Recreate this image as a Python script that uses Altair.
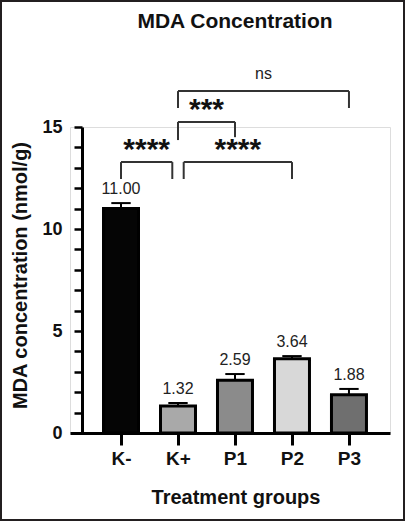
import json
import altair as alt
import pandas as pd

# ---- data ----
groups = ["K-", "K+", "P1", "P2", "P3"]
means = [11.00, 1.32, 2.59, 3.64, 1.88]
sems = [0.27, 0.15, 0.30, 0.13, 0.28]
bar_colors = ["#050505", "#a9a9a9", "#8b8b8b", "#d8d8d8", "#6f6f6f"]

cmp_from = ["K-", "K+", "K+", "K+"]
cmp_to = ["K+", "P2", "P1", "P3"]
cmp_top = [13.28, 13.28, 15.25, 16.76]
cmp_from_low = [12.45, 12.45, 14.36, 15.93]
cmp_to_low = [12.45, 12.45, 14.50, 15.93]
cmp_from_shift = [0.0, 0.1, 0.0, 0.0]
cmp_to_shift = [-0.1, 0.0, 0.0, 0.0]
cmp_labels = ["****", "****", "***", "ns"]

y_ticks = list(range(0, 16))
chart_title = "MDA Concentration"

FONT = "Liberation Sans"

bars = pd.DataFrame({
    "group": groups,
    "idx": list(range(len(groups))),
    "mean": means,
    "sem": sems,
    "label": [f"{m:.2f}" for m in means],
})

cmp = pd.DataFrame({
    "x1": [groups.index(g) + s for g, s in zip(cmp_from, cmp_from_shift)],
    "x2": [groups.index(g) + s for g, s in zip(cmp_to, cmp_to_shift)],
    "top": cmp_top,
    "low1": cmp_from_low,
    "low2": cmp_to_low,
    "label": cmp_labels,
})

xscale = alt.Scale(domain=[-0.895, 4.72], nice=False, zero=False)
yscale = alt.Scale(domain=[0, 15], nice=False, zero=True)

label_js = json.dumps(groups)
xaxis = alt.Axis(
    title="Treatment groups", values=list(range(len(groups))),
    labelExpr=f"{label_js}[datum.value]",
    grid=False, domainColor="#000", domainWidth=3, tickColor="#000",
    tickWidth=3, tickSize=12, labelFont=FONT, labelFontSize=19,
    labelFontWeight="bold", labelColor="#111", labelPadding=4,
    titleFont=FONT, titleFontSize=20, titleFontWeight="bold",
    titleColor="#111", titlePadding=19, titleX=165.5,
)
yaxis = alt.Axis(
    title="MDA concentration (nmol/g)", values=y_ticks,
    labelExpr="datum.value % 5 === 0 ? datum.label : ''",
    grid=False, domainColor="#000", domainWidth=3, tickColor="#000",
    tickWidth=2.5, tickSize=8, labelFont=FONT, labelFontSize=18,
    labelFontWeight="bold", labelColor="#111", labelPadding=12,
    titleFont=FONT, titleFontSize=20, titleFontWeight="bold",
    titleColor="#111", titlePadding=11, titleY=148, offset=-12,
)


def X(field):
    return alt.X(field, type="quantitative", scale=xscale, axis=xaxis)


def Y(field):
    return alt.Y(field, type="quantitative", scale=yscale, axis=yaxis)


base = alt.Chart(bars)

bar_layer = base.mark_bar(stroke="#000", strokeWidth=3).transform_calculate(
    x_lo="datum.idx - 0.307", x_hi="datum.idx + 0.307"
).encode(
    x=X("x_lo"), x2="x_hi:Q",
    y=Y("mean"), y2=alt.datum(0),
    fill=alt.Fill("group:N", scale=alt.Scale(domain=groups, range=bar_colors), legend=None),
)

stem_layer = base.mark_rule(color="#000", strokeWidth=2).transform_calculate(
    upper="datum.mean + datum.sem"
).encode(x=X("idx"), y=Y("mean"), y2="upper:Q")

cap_layer = base.mark_rule(color="#000", strokeWidth=2).transform_calculate(
    upper="datum.mean + datum.sem", c_lo="datum.idx - 0.17", c_hi="datum.idx + 0.17"
).encode(x=X("c_lo"), x2="c_hi:Q", y=Y("upper"))

value_layer = base.mark_text(
    font=FONT, fontSize=16, color="#222", baseline="alphabetic", dy=-9
).transform_calculate(upper="datum.mean + datum.sem").encode(
    x=X("idx"), y=Y("upper"), text="label:N"
)

cbase = alt.Chart(cmp)
br_h = cbase.mark_rule(color="#333", strokeWidth=2).encode(x=X("x1"), x2="x2:Q", y=Y("top"))
br_l = cbase.mark_rule(color="#333", strokeWidth=2).encode(x=X("x1"), y=Y("low1"), y2="top:Q")
br_r = cbase.mark_rule(color="#333", strokeWidth=2).encode(x=X("x2"), y=Y("low2"), y2="top:Q")

stars = cbase.transform_filter("datum.label !== 'ns'").transform_calculate(
    mid="(datum.x1 + datum.x2) / 2"
).mark_text(
    font=FONT, fontSize=30, fontWeight="bold", color="#111", baseline="alphabetic", dy=-3
).encode(x=X("mid"), y=Y("top"), text="label:N")

ns = cbase.transform_filter("datum.label === 'ns'").transform_calculate(
    mid="(datum.x1 + datum.x2) / 2"
).mark_text(
    font=FONT, fontSize=16, color="#222", baseline="alphabetic", dy=-12
).encode(x=X("mid"), y=Y("top"), text="label:N")

title_layer = alt.Chart(pd.DataFrame({"t": [chart_title]})).mark_text(
    font=FONT, fontSize=21, fontWeight="bold", color="#111", baseline="alphabetic", align="center"
).encode(x=alt.value(165), y=alt.value(-99), text="t:N")

frame = alt.Chart(pd.DataFrame({"f": [0]})).mark_rect(
    filled=False, stroke="#231f20", strokeWidth=2
).encode(
    x=alt.value(-69), x2=alt.value(334), y=alt.value(-126), y2=alt.value(393)
)

chart = alt.layer(
    bar_layer, stem_layer, cap_layer, value_layer, br_h, br_l, br_r, stars, ns, title_layer, frame
).properties(
    width=320, height=306,
    autosize=alt.AutoSizeParams(type="none"),
    padding={"left": 70, "top": 127, "right": 15, "bottom": 88},
).configure_view(stroke=None).configure(background="white")

chart.save("out.html", embed_options={"renderer": "svg", "actions": False})
